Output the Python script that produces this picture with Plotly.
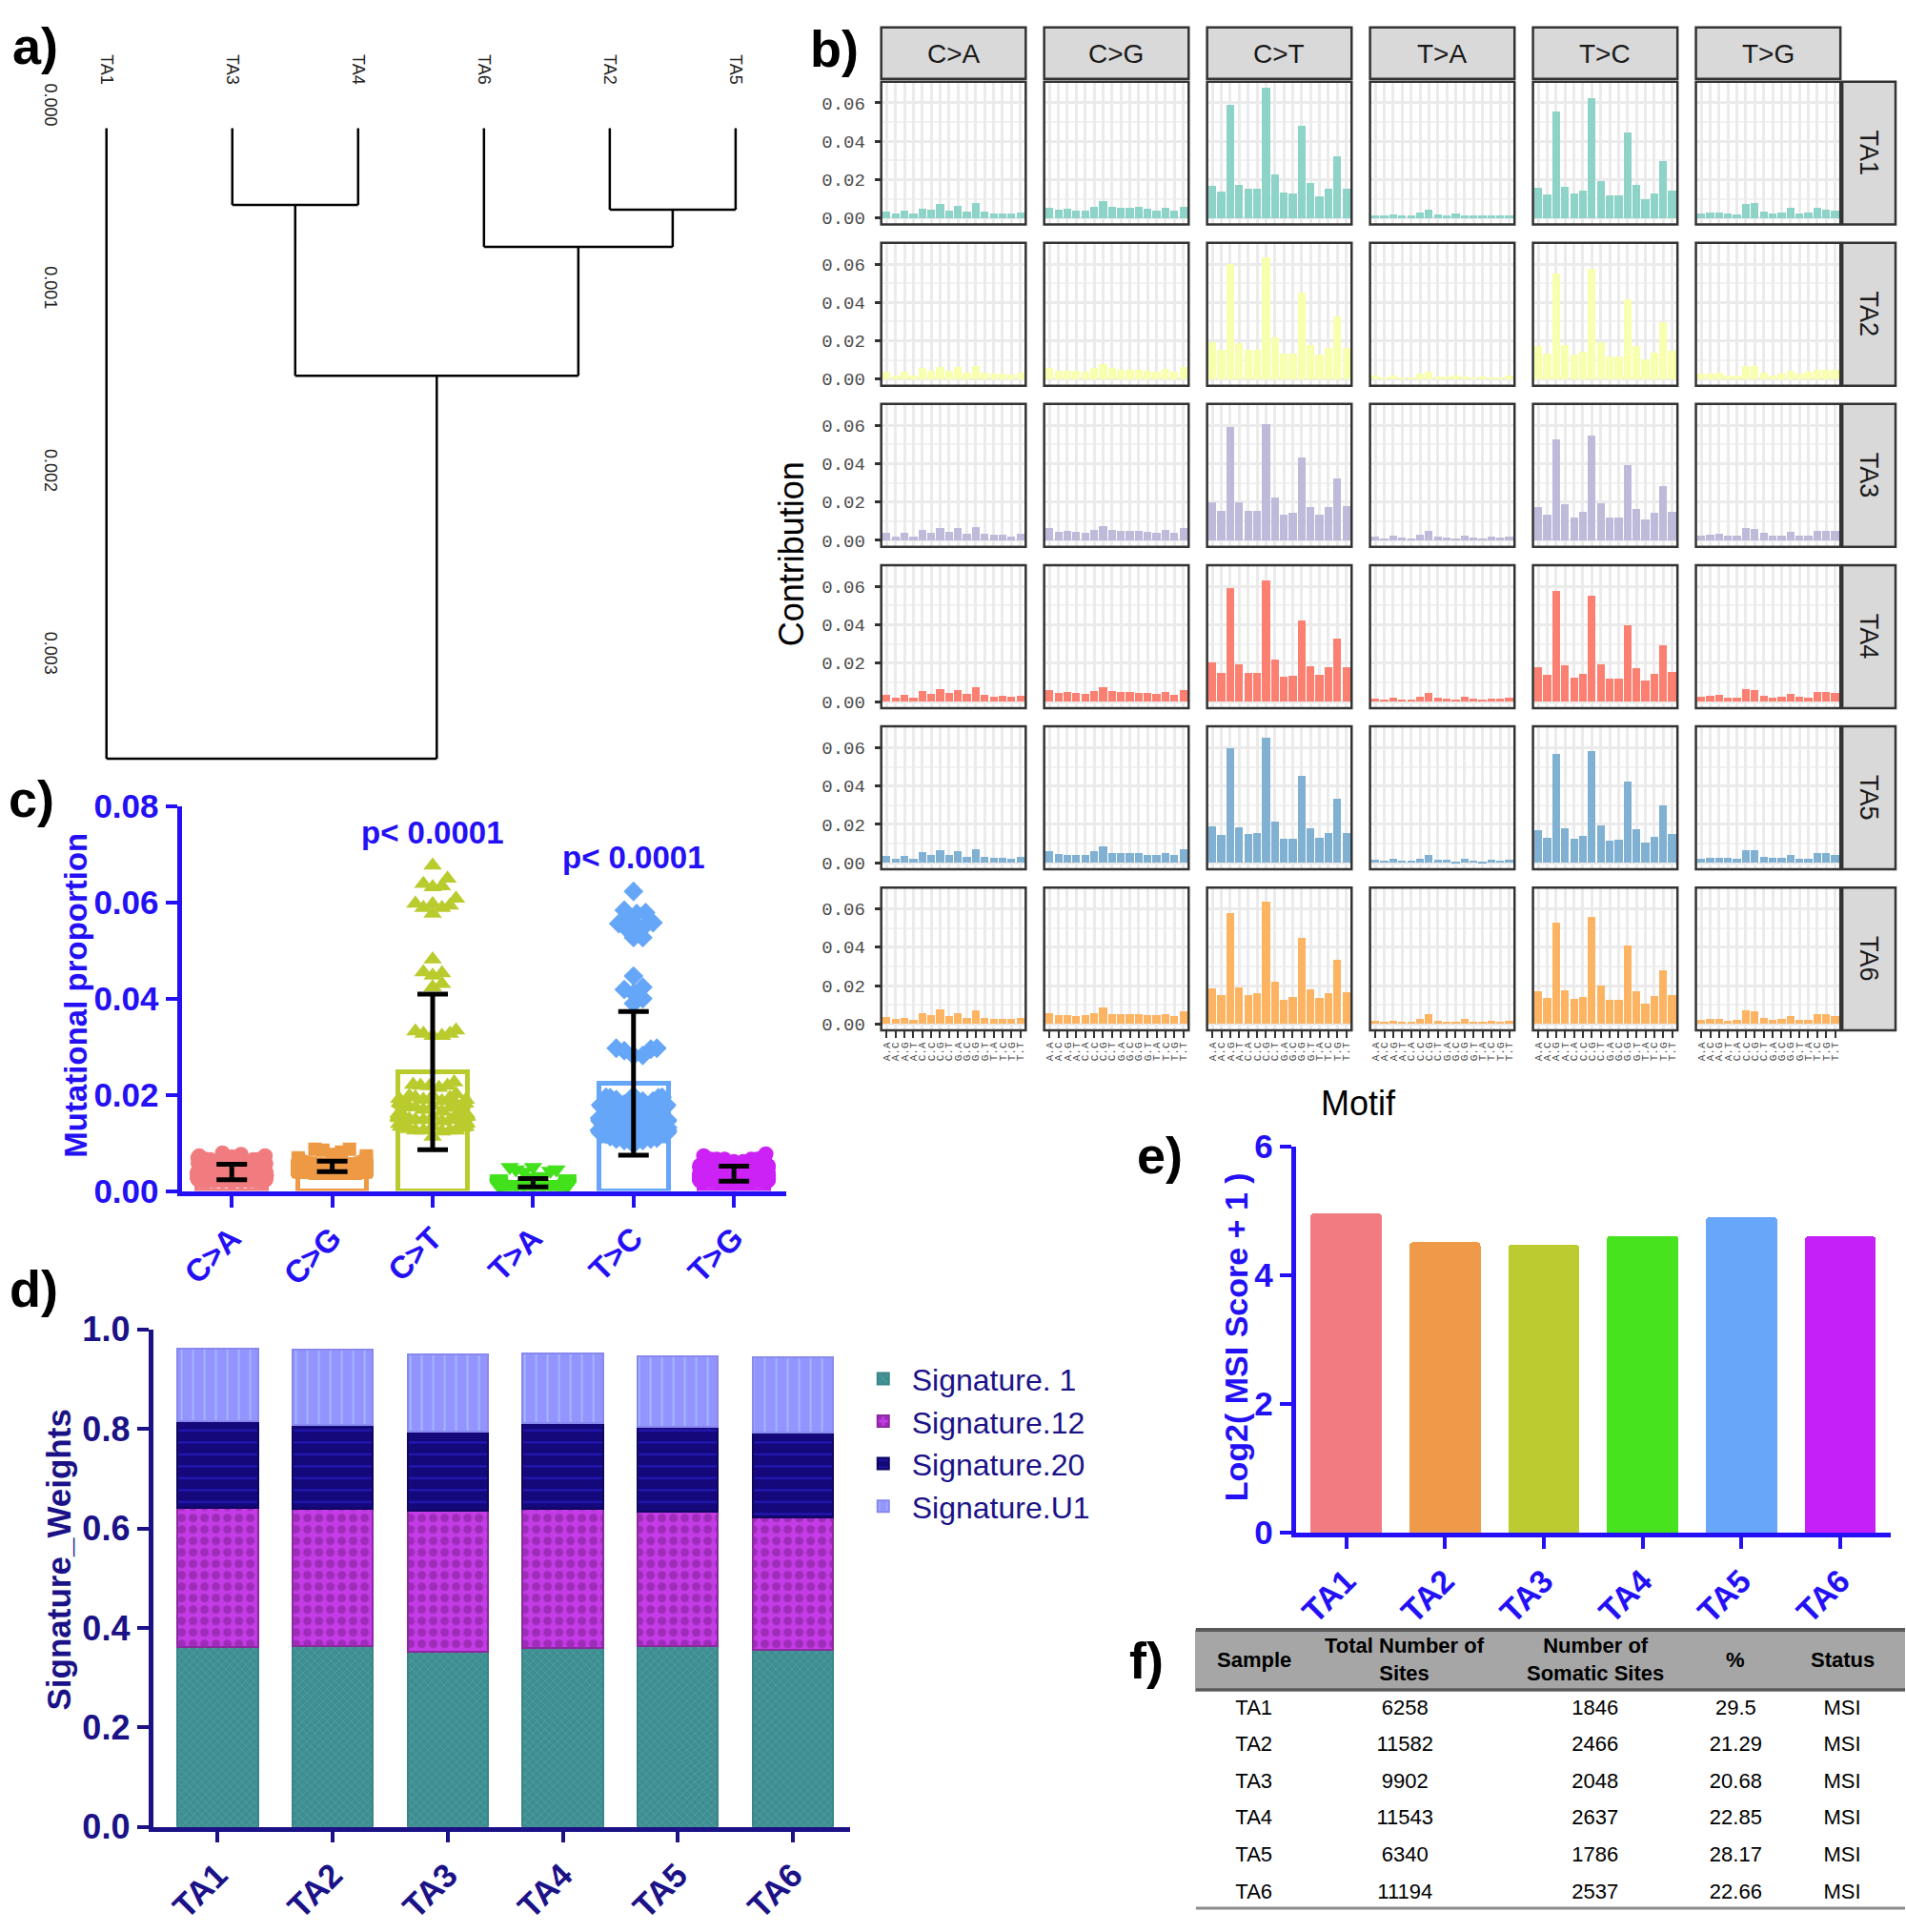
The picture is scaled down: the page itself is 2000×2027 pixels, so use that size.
import numpy as np
import plotly.graph_objects as go

W, H = 2000, 2027


def px(x):
    return x / W


def py(y):
    return 1 - y / H


SANS = "Liberation Sans, Arial, sans-serif"
MONO = "Liberation Mono, DejaVu Sans Mono, monospace"
BLUE = "#2410F5"
NAVY = "#1B1287"

# ---------------- data ----------------
samples = ["TA1", "TA2", "TA3", "TA4", "TA5", "TA6"]
mutation_types = ["C>A", "C>G", "C>T", "T>A", "T>C", "T>G"]
motifs = ["A.A", "A.C", "A.G", "A.T", "C.A", "C.C", "C.G", "C.T",
          "G.A", "G.C", "G.G", "G.T", "T.A", "T.C", "T.G", "T.T"]

# panel b: 96-channel profiles (rows = C>A, C>G, C>T, T>A, T>C, T>G)
TA1_profile = [
    [0.0032, 0.0021, 0.0037, 0.0021, 0.0050, 0.0045, 0.0073, 0.0040, 0.0065, 0.0032, 0.0079, 0.0032, 0.0024, 0.0024, 0.0021, 0.0029],
    [0.0053, 0.0045, 0.0050, 0.0040, 0.0040, 0.0060, 0.0087, 0.0056, 0.0053, 0.0053, 0.0056, 0.0050, 0.0037, 0.0053, 0.0037, 0.0060],
    [0.0169, 0.0140, 0.0589, 0.0174, 0.0155, 0.0155, 0.0677, 0.0226, 0.0131, 0.0126, 0.0482, 0.0182, 0.0113, 0.0155, 0.0323, 0.0155],
    [0.0015, 0.0011, 0.0019, 0.0011, 0.0015, 0.0026, 0.0045, 0.0019, 0.0015, 0.0021, 0.0015, 0.0011, 0.0015, 0.0011, 0.0015, 0.0015],
    [0.0160, 0.0124, 0.0556, 0.0161, 0.0127, 0.0144, 0.0623, 0.0190, 0.0119, 0.0119, 0.0447, 0.0174, 0.0097, 0.0127, 0.0297, 0.0144],
    [0.0021, 0.0026, 0.0029, 0.0021, 0.0016, 0.0073, 0.0077, 0.0032, 0.0021, 0.0026, 0.0053, 0.0021, 0.0029, 0.0053, 0.0045, 0.0037],
]
TA2_profile = [
    [0.0037, 0.0021, 0.0037, 0.0021, 0.0058, 0.0042, 0.0066, 0.0042, 0.0066, 0.0034, 0.0069, 0.0034, 0.0029, 0.0029, 0.0026, 0.0034],
    [0.0061, 0.0045, 0.0045, 0.0045, 0.0037, 0.0061, 0.0081, 0.0058, 0.0050, 0.0050, 0.0050, 0.0045, 0.0037, 0.0053, 0.0037, 0.0066],
    [0.0194, 0.0152, 0.0598, 0.0190, 0.0152, 0.0152, 0.0634, 0.0219, 0.0134, 0.0134, 0.0453, 0.0179, 0.0126, 0.0161, 0.0327, 0.0165],
    [0.0018, 0.0010, 0.0021, 0.0010, 0.0010, 0.0029, 0.0040, 0.0016, 0.0013, 0.0018, 0.0013, 0.0010, 0.0013, 0.0010, 0.0010, 0.0018],
    [0.0171, 0.0134, 0.0553, 0.0179, 0.0126, 0.0145, 0.0577, 0.0194, 0.0118, 0.0118, 0.0419, 0.0171, 0.0105, 0.0137, 0.0295, 0.0147],
    [0.0029, 0.0029, 0.0032, 0.0021, 0.0021, 0.0068, 0.0068, 0.0034, 0.0021, 0.0029, 0.0045, 0.0029, 0.0037, 0.0050, 0.0048, 0.0048],
]
TA3_profile = [
    [0.0040, 0.0021, 0.0037, 0.0021, 0.0056, 0.0040, 0.0065, 0.0044, 0.0065, 0.0032, 0.0069, 0.0032, 0.0029, 0.0029, 0.0021, 0.0032],
    [0.0065, 0.0045, 0.0050, 0.0045, 0.0040, 0.0056, 0.0073, 0.0056, 0.0050, 0.0050, 0.0050, 0.0045, 0.0040, 0.0053, 0.0039, 0.0065],
    [0.0198, 0.0156, 0.0589, 0.0198, 0.0156, 0.0153, 0.0608, 0.0221, 0.0134, 0.0142, 0.0431, 0.0174, 0.0132, 0.0173, 0.0323, 0.0179],
    [0.0018, 0.0011, 0.0023, 0.0016, 0.0011, 0.0031, 0.0050, 0.0021, 0.0015, 0.0011, 0.0026, 0.0015, 0.0010, 0.0018, 0.0013, 0.0019],
    [0.0176, 0.0135, 0.0527, 0.0187, 0.0121, 0.0148, 0.0544, 0.0195, 0.0118, 0.0121, 0.0390, 0.0166, 0.0108, 0.0144, 0.0282, 0.0148],
    [0.0026, 0.0031, 0.0035, 0.0026, 0.0023, 0.0066, 0.0061, 0.0039, 0.0023, 0.0026, 0.0045, 0.0026, 0.0023, 0.0050, 0.0047, 0.0047],
]
TA4_profile = [
    [0.0037, 0.0021, 0.0037, 0.0021, 0.0056, 0.0040, 0.0066, 0.0044, 0.0061, 0.0040, 0.0073, 0.0034, 0.0027, 0.0032, 0.0024, 0.0032],
    [0.0061, 0.0045, 0.0048, 0.0045, 0.0042, 0.0056, 0.0076, 0.0056, 0.0050, 0.0050, 0.0045, 0.0047, 0.0040, 0.0048, 0.0037, 0.0061],
    [0.0202, 0.0150, 0.0594, 0.0195, 0.0150, 0.0150, 0.0632, 0.0218, 0.0131, 0.0134, 0.0424, 0.0182, 0.0140, 0.0177, 0.0327, 0.0181],
    [0.0016, 0.0011, 0.0021, 0.0011, 0.0011, 0.0024, 0.0045, 0.0021, 0.0015, 0.0011, 0.0023, 0.0016, 0.0011, 0.0015, 0.0013, 0.0018],
    [0.0181, 0.0140, 0.0579, 0.0187, 0.0126, 0.0145, 0.0553, 0.0194, 0.0119, 0.0119, 0.0400, 0.0173, 0.0110, 0.0145, 0.0292, 0.0156],
    [0.0027, 0.0032, 0.0037, 0.0021, 0.0021, 0.0066, 0.0061, 0.0032, 0.0021, 0.0027, 0.0040, 0.0027, 0.0021, 0.0050, 0.0050, 0.0044],
]
TA5_profile = [
    [0.0035, 0.0023, 0.0035, 0.0019, 0.0056, 0.0042, 0.0066, 0.0039, 0.0061, 0.0029, 0.0069, 0.0029, 0.0026, 0.0026, 0.0023, 0.0031],
    [0.0060, 0.0045, 0.0042, 0.0042, 0.0042, 0.0060, 0.0085, 0.0050, 0.0050, 0.0050, 0.0050, 0.0042, 0.0039, 0.0050, 0.0039, 0.0069],
    [0.0190, 0.0145, 0.0597, 0.0187, 0.0148, 0.0155, 0.0650, 0.0215, 0.0124, 0.0126, 0.0455, 0.0179, 0.0129, 0.0156, 0.0334, 0.0155],
    [0.0016, 0.0011, 0.0019, 0.0011, 0.0011, 0.0023, 0.0042, 0.0018, 0.0015, 0.0008, 0.0023, 0.0010, 0.0008, 0.0015, 0.0013, 0.0016],
    [0.0168, 0.0132, 0.0565, 0.0179, 0.0124, 0.0140, 0.0584, 0.0195, 0.0113, 0.0121, 0.0424, 0.0176, 0.0105, 0.0137, 0.0297, 0.0152],
    [0.0023, 0.0027, 0.0027, 0.0024, 0.0019, 0.0066, 0.0066, 0.0031, 0.0024, 0.0027, 0.0042, 0.0023, 0.0023, 0.0050, 0.0050, 0.0042],
]
TA6_profile = [
    [0.0035, 0.0024, 0.0032, 0.0021, 0.0055, 0.0047, 0.0076, 0.0039, 0.0058, 0.0032, 0.0071, 0.0032, 0.0027, 0.0027, 0.0027, 0.0032],
    [0.0058, 0.0044, 0.0048, 0.0040, 0.0044, 0.0058, 0.0087, 0.0050, 0.0050, 0.0050, 0.0050, 0.0044, 0.0044, 0.0052, 0.0039, 0.0068],
    [0.0184, 0.0148, 0.0577, 0.0192, 0.0148, 0.0161, 0.0639, 0.0219, 0.0126, 0.0140, 0.0448, 0.0182, 0.0134, 0.0161, 0.0332, 0.0165],
    [0.0015, 0.0011, 0.0018, 0.0011, 0.0011, 0.0026, 0.0050, 0.0016, 0.0013, 0.0010, 0.0026, 0.0011, 0.0011, 0.0015, 0.0011, 0.0015],
    [0.0168, 0.0137, 0.0527, 0.0176, 0.0129, 0.0139, 0.0558, 0.0198, 0.0124, 0.0124, 0.0411, 0.0171, 0.0108, 0.0144, 0.0282, 0.0152],
    [0.0023, 0.0027, 0.0027, 0.0018, 0.0021, 0.0071, 0.0066, 0.0032, 0.0023, 0.0027, 0.0039, 0.0019, 0.0019, 0.0050, 0.0050, 0.0039],
]
profiles = [TA1_profile, TA2_profile, TA3_profile, TA4_profile, TA5_profile, TA6_profile]
profile_colors = ["#8DD3C7", "#F8FFAE", "#BEBADA", "#FB8072", "#80B1D3", "#FDB462"]

# panel a: dendrogram
dendro_leaf_order = ["TA1", "TA3", "TA4", "TA6", "TA2", "TA5"]
dendro_merges = [("TA3", "TA4", 0.000419), ("TA2", "TA5", 0.000445),
                 ("TA6", "M2", 0.000649), ("M1", "M3", 0.001354),
                 ("TA1", "M4", 0.003449)]
dendro_ticks = [0.000, 0.001, 0.002, 0.003]

# panel c colours
type_colors = ["#F07C80", "#EE9A45", "#BACB2E", "#42E11C", "#65A6F8", "#CC22F5"]
type_symbols = ["circle", "square", "triangle-up", "triangle-down", "diamond", "circle"]
type_sizes = [16, 14, 17, 17, 16, 16]
p_labels = ["p< 0.0001", "p< 0.0001"]
p_positions = [2, 4]
p_heights = [0.0746, 0.0693]

# panel d: signature weights
signature_names = ["Signature. 1", "Signature.12", "Signature.20", "Signature.U1"]
sig_1 = [0.362, 0.364, 0.353, 0.359, 0.364, 0.356]
sig_12 = [0.280, 0.276, 0.283, 0.281, 0.269, 0.267]
sig_20 = [0.173, 0.168, 0.158, 0.1725, 0.171, 0.169]
sig_U1 = [0.146, 0.152, 0.155, 0.1385, 0.142, 0.151]

# panel e
msi_log2 = [4.96, 4.51, 4.47, 4.61, 4.90, 4.60]
msi_colors = ["#F27B81", "#EE9A48", "#BCCC30", "#46E31E", "#68A6FA", "#C520F8"]

# panel f: table
table_header = ["Sample", "Total Number of<br>Sites", "Number of<br>Somatic Sites", "%", "Status"]
table_total_sites = [6258, 11582, 9902, 11543, 6340, 11194]
table_somatic_sites = [1846, 2466, 2048, 2637, 1786, 2537]
table_percent = ["29.5", "21.29", "20.68", "22.85", "28.17", "22.66"]
table_status = ["MSI", "MSI", "MSI", "MSI", "MSI", "MSI"]

# ---------------- figure ----------------
fig = go.Figure()
layout = dict(
    width=W, height=H, margin=dict(l=0, r=0, t=0, b=0),
    paper_bgcolor="white", plot_bgcolor="white",
    barmode="stack", font=dict(family=SANS, color="black"),
    showlegend=True,
)
shapes = []
annotations = []


def note(text, x, y, size, color="black", angle=0, xref="paper", yref="paper"):
    annotations.append(dict(text=text, x=x, y=y, xref=xref, yref=yref, showarrow=False,
                            xanchor="center", yanchor="middle", textangle=angle,
                            font=dict(size=size, color=color)))


# ---- panel a: dendrogram ----
pos = {n: i for i, n in enumerate(dendro_leaf_order)}
hgt = {n: 0.0 for n in dendro_leaf_order}
dx, dy = [], []
for k, (a, b, h) in enumerate(dendro_merges, start=1):
    for ch in (a, b):
        dx += [pos[ch], pos[ch], None]
        dy += [hgt[ch], h, None]
    dx += [pos[a], pos[b], None]
    dy += [h, h, None]
    pos[f"M{k}"] = (pos[a] + pos[b]) / 2
    hgt[f"M{k}"] = h
fig.add_trace(go.Scatter(x=dx, y=dy, mode="lines", line=dict(color="black", width=2.5),
                         xaxis="x", yaxis="y", showlegend=False, hoverinfo="skip"))
layout["xaxis"] = dict(domain=[px(70), px(836)], range=[-0.287, 5.5], anchor="y", side="top",
                       tickvals=list(range(6)), ticktext=dendro_leaf_order, tickangle=90,
                       tickfont=dict(size=18, color="#222222"), ticks="", showgrid=False,
                       zeroline=False, showline=False, ticklabelstandoff=6)
layout["yaxis"] = dict(domain=[py(800), py(80)], range=[0.00349, -0.000189], anchor="x",
                       tickvals=dendro_ticks, ticktext=[f"{v:.3f}" for v in dendro_ticks],
                       tickangle=90, tickfont=dict(size=18, color="#222222"), ticks="",
                       showgrid=False, zeroline=False, showline=False,
                       ticklabelstandoff=8, ticklabelshift=22)

# ---- panel b: facet grid ----
col_x0 = [923, 1094.4, 1265.8, 1437.2, 1608.6, 1780]
col_w = 152
row_y0 = [67, 239.6, 412.2, 584.8, 757.4, 930]
row_h = 153
for s in range(6):
    for t in range(6):
        fig.add_trace(go.Bar(x=motifs, y=profiles[s][t], width=0.88,
                             marker=dict(color=profile_colors[s], line=dict(width=0)),
                             xaxis=f"x{2 + t}", yaxis=f"y{2 + s}", showlegend=False,
                             hoverinfo="skip"))
for t in range(6):
    layout[f"xaxis{2 + t}"] = dict(
        domain=[px(col_x0[t]), px(col_x0[t] + col_w)], anchor="y7", type="category",
        range=[-0.6, 15.6], tickvals=motifs, ticktext=motifs, tickangle=-90,
        tickfont=dict(size=11, family=MONO, color="#4D4D4D"), ticks="outside",
        ticklen=7, tickwidth=2, tickcolor="#333333", showgrid=True,
        gridcolor="#EBEBEB", gridwidth=2.5, zeroline=False, showline=False)
    shapes.append(dict(type="rect", xref="paper", yref="paper",
                       x0=px(col_x0[t]), x1=px(col_x0[t] + col_w), y0=py(64), y1=py(9),
                       fillcolor="#D9D9D9", line=dict(color="#333333", width=2.5), layer="below"))
    note(mutation_types[t], px(col_x0[t] + col_w / 2), py(37), 28, "#1A1A1A")
for s in range(6):
    layout[f"yaxis{2 + s}"] = dict(
        domain=[py(row_y0[s] + row_h), py(row_y0[s])], anchor="x2",
        range=[-0.0034, 0.0711], tickvals=[0, 0.02, 0.04, 0.06],
        ticktext=["0.00", "0.02", "0.04", "0.06"],
        tickfont=dict(size=19, family=MONO, color="#4D4D4D"), ticks="outside",
        ticklen=6, tickwidth=3, tickcolor="#333333", showgrid=True,
        gridcolor="#EBEBEB", gridwidth=2.5, zeroline=False, showline=False,
        ticklabelstandoff=6,
        minor=dict(tickvals=[0.01, 0.03, 0.05], showgrid=True, gridcolor="#F2F2F2",
                   gridwidth=2, ticks=""))
    shapes.append(dict(type="rect", xref="paper", yref="paper",
                       x0=px(1934), x1=px(1990), y0=py(row_y0[s] + row_h), y1=py(row_y0[s]),
                       fillcolor="#D9D9D9", line=dict(color="#333333", width=2.5), layer="below"))
    note(samples[s], px(1962), py(row_y0[s] + row_h / 2), 27, "#1A1A1A", angle=90)
    for t in range(6):
        shapes.append(dict(type="rect", xref=f"x{2 + t} domain", yref=f"y{2 + s} domain",
                           x0=0, x1=1, y0=0, y1=1, line=dict(color="#333333", width=2.5),
                           fillcolor="rgba(0,0,0,0)", layer="above"))
note("Contribution", px(828), py(573), 36, angle=-90)
note("Motif", px(1425), py(1161), 36)

# ---- panel c: dot plot with mean +/- SD ----
Y_PX = (1255 - 843) / 0.08
X_PX = 105.6


def swarm_offsets(vals, d=10.0, max_px=36.0):
    vals = np.asarray(vals, dtype=float)
    order = np.argsort(vals)
    step = d / 3.0
    cands = [0.0]
    for k in range(1, 400):
        cands += [k * step, -k * step]
    placed = []
    offs = np.zeros(len(vals))
    for i in order:
        yy = vals[i] * Y_PX
        for c in cands:
            ok = True
            for (qx, qy) in placed:
                if abs(qy - yy) < d and (qx - c) ** 2 + (qy - yy) ** 2 < d * d:
                    ok = False
                    break
            if ok:
                break
        offs[i] = c
        placed.append((c, yy))
    offs = max_px * np.tanh(offs / max_px)
    return offs / X_PX


type_vals = [np.concatenate([np.array(profiles[s][t]) for s in range(6)]) for t in range(6)]
means = [float(v.mean()) for v in type_vals]
sds = [float(v.std(ddof=1)) for v in type_vals]

fig.add_trace(go.Bar(x=list(range(6)), y=means, width=0.69,
                     marker=dict(color="rgba(0,0,0,0)", line=dict(color=type_colors, width=5)),
                     xaxis="x8", yaxis="y8", showlegend=False, hoverinfo="skip"))
for t in range(6):
    off = swarm_offsets(type_vals[t])
    fig.add_trace(go.Scatter(x=t + off, y=type_vals[t], mode="markers",
                             marker=dict(symbol=type_symbols[t], size=type_sizes[t],
                                         color=type_colors[t], line=dict(width=0)),
                             xaxis="x8", yaxis="y8", showlegend=False, hoverinfo="skip"))
fig.add_trace(go.Scatter(x=list(range(6)), y=means, mode="markers",
                         marker=dict(size=1, color="rgba(0,0,0,0)"),
                         error_y=dict(type="data", array=sds, color="black", thickness=5, width=16),
                         xaxis="x8", yaxis="y8", showlegend=False, hoverinfo="skip"))
for lbl, xp, yp in zip(p_labels, p_positions, p_heights):
    note(f"<b>{lbl}</b>", xp, yp, 33, BLUE, xref="x8", yref="y8")
layout["xaxis8"] = dict(domain=[px(187), px(823)], range=[-0.5, 5.52], anchor="y8",
                        tickvals=list(range(6)), ticktext=[f"<b>{m}</b>" for m in mutation_types],
                        tickangle=-45, tickfont=dict(size=33, color=BLUE), ticks="outside",
                        ticklen=12, tickwidth=4, tickcolor=BLUE, showline=True,
                        linecolor=BLUE, linewidth=5, showgrid=False, zeroline=False)
c_ticks = [0, 0.02, 0.04, 0.06, 0.08]
layout["yaxis8"] = dict(domain=[py(1255), py(843)], range=[0, 0.08], anchor="x8",
                        tickvals=c_ticks, ticktext=[f"<b>{v:.2f}</b>" for v in c_ticks],
                        tickfont=dict(size=35, color=BLUE), ticks="outside", ticklen=12,
                        tickwidth=4, tickcolor=BLUE, showline=True, linecolor=BLUE,
                        linewidth=5, showgrid=False, zeroline=False)
note("<b>Mutational proportion</b>", px(76), py(1045), 33, BLUE, angle=-90)

# ---- panel d: stacked signature weights ----
sig_values = [sig_1, sig_12, sig_20, sig_U1]
sig_styles = [
    dict(color="#3E8E91", line="#3A8588", shape="x", fg="#67B5B3", size=6, sol=0.25),
    dict(color="#C43CE6", line="#8A2A9E", shape=".", fg="#7A1C8C", size=12, sol=0.45),
    dict(color="#14087A", line="#0E0660", shape="-", fg="#3A2EFF", size=12.5, sol=0.15),
    dict(color="#9494FF", line="#8888EE", shape="|", fg="#BDEFF5", size=12, sol=0.12),
]
for name, vals, st in zip(signature_names, sig_values, sig_styles):
    fig.add_trace(go.Bar(
        x=list(range(6)), y=vals, name=name, width=0.70,
        marker=dict(color=st["color"], line=dict(color=st["line"], width=2),
                    pattern=dict(shape=st["shape"], fgcolor=st["fg"], bgcolor=st["color"],
                                 size=st["size"], solidity=st["sol"])),
        xaxis="x9", yaxis="y9", hoverinfo="skip"))
layout["xaxis9"] = dict(domain=[px(157), px(890)], range=[-0.562, 5.496], anchor="y9",
                        tickvals=list(range(6)), ticktext=[f"<b>{s}</b>" for s in samples],
                        tickangle=-45, tickfont=dict(size=35, color=NAVY), ticks="outside",
                        ticklen=11, tickwidth=4, tickcolor=NAVY, showline=True,
                        linecolor=NAVY, linewidth=5, showgrid=False, zeroline=False)
d_ticks = [0, 0.2, 0.4, 0.6, 0.8, 1.0]
layout["yaxis9"] = dict(domain=[py(1936), py(1403)], range=[0, 1.0], anchor="x9",
                        tickvals=d_ticks, ticktext=[f"<b>{v:.1f}</b>" for v in d_ticks],
                        tickfont=dict(size=36, color=NAVY), ticks="outside", ticklen=12,
                        tickwidth=4, tickcolor=NAVY, showline=True, linecolor=NAVY,
                        linewidth=5, showgrid=False, zeroline=False)
note("<b>Signature_Weights</b>", px(58), py(1650), 35, NAVY, angle=-90)
layout["legend"] = dict(x=px(895), y=py(1428), xanchor="left", yanchor="top",
                        font=dict(size=32, color=NAVY), bgcolor="rgba(0,0,0,0)",
                        traceorder="normal", itemwidth=50, tracegroupgap=0)

# ---- panel e: MSI score ----
fig.add_trace(go.Bar(x=list(range(6)), y=msi_log2, width=0.72,
                     marker=dict(color=msi_colors, line=dict(width=0), cornerradius=4),
                     xaxis="x10", yaxis="y10", showlegend=False, hoverinfo="skip"))
layout["xaxis10"] = dict(domain=[px(1359), px(1985)], range=[-0.51, 5.51], anchor="y10",
                         tickvals=list(range(6)), ticktext=[f"<b>{s}</b>" for s in samples],
                         tickangle=-45, tickfont=dict(size=34, color=BLUE), ticks="outside",
                         ticklen=12, tickwidth=4, tickcolor=BLUE, showline=True,
                         linecolor=BLUE, linewidth=5, showgrid=False, zeroline=False)
e_ticks = [0, 2, 4, 6]
layout["yaxis10"] = dict(domain=[py(1621), py(1207)], range=[0, 6], anchor="x10",
                         tickvals=e_ticks, ticktext=[f"<b>{v}</b>" for v in e_ticks],
                         tickfont=dict(size=35, color=BLUE), ticks="outside", ticklen=12,
                         tickwidth=4, tickcolor=BLUE, showline=True, linecolor=BLUE,
                         linewidth=5, showgrid=False, zeroline=False)
note("<b>Log2( MSI Score + 1 )</b>", px(1297), py(1411), 34, BLUE, angle=-90)

# ---- panel f: table ----
tab_cols = [122, 196, 204, 92, 132]
tab_x0 = 1254
fig.add_trace(go.Table(
    domain=dict(x=[px(tab_x0), 1.0], y=[py(2024), py(1725)]),
    columnwidth=tab_cols,
    header=dict(values=["", "", "", "", ""], fill_color="#A6A6A6",
                line_color="#A6A6A6", align="center", height=64,
                font=dict(size=22, color="black", family=SANS)),
    cells=dict(values=[samples, table_total_sites, table_somatic_sites, table_percent, table_status],
               fill_color="white", line_color="white", align="center", height=38.6,
               font=dict(size=22, color="black", family=SANS)),
))
edge = tab_x0
for hdr, wcol in zip(table_header, tab_cols):
    note(f"<b>{hdr}</b>", px(edge + wcol / 2), py(1757), 22)
    edge += wcol
shapes.append(dict(type="line", xref="paper", yref="paper", x0=px(1254), x1=1.0,
                   y0=py(1725), y1=py(1725), line=dict(color="#595959", width=4)))
shapes.append(dict(type="line", xref="paper", yref="paper", x0=px(1254), x1=1.0,
                   y0=py(1789), y1=py(1789), line=dict(color="#595959", width=3)))
shapes.append(dict(type="line", xref="paper", yref="paper", x0=px(1254), x1=1.0,
                   y0=py(2023), y1=py(2023), line=dict(color="#8C8C8C", width=3)))

# ---- panel letters ----
for lbl, (lx, ly) in zip(["a)", "b)", "c)", "d)", "e)", "f)"],
                         [(33, 29), (874, 32), (29, 835), (32, 1359), (1216, 1217), (1202, 1758)]):
    note(f"<b>{lbl}</b>", px(lx), py(ly), 54)

layout["shapes"] = shapes
layout["annotations"] = annotations
fig.update_layout(**layout)
fig.write_html("out.html", config={"displayModeBar": False},
               post_script="document.body.style.margin='0';document.body.style.padding='0';")
